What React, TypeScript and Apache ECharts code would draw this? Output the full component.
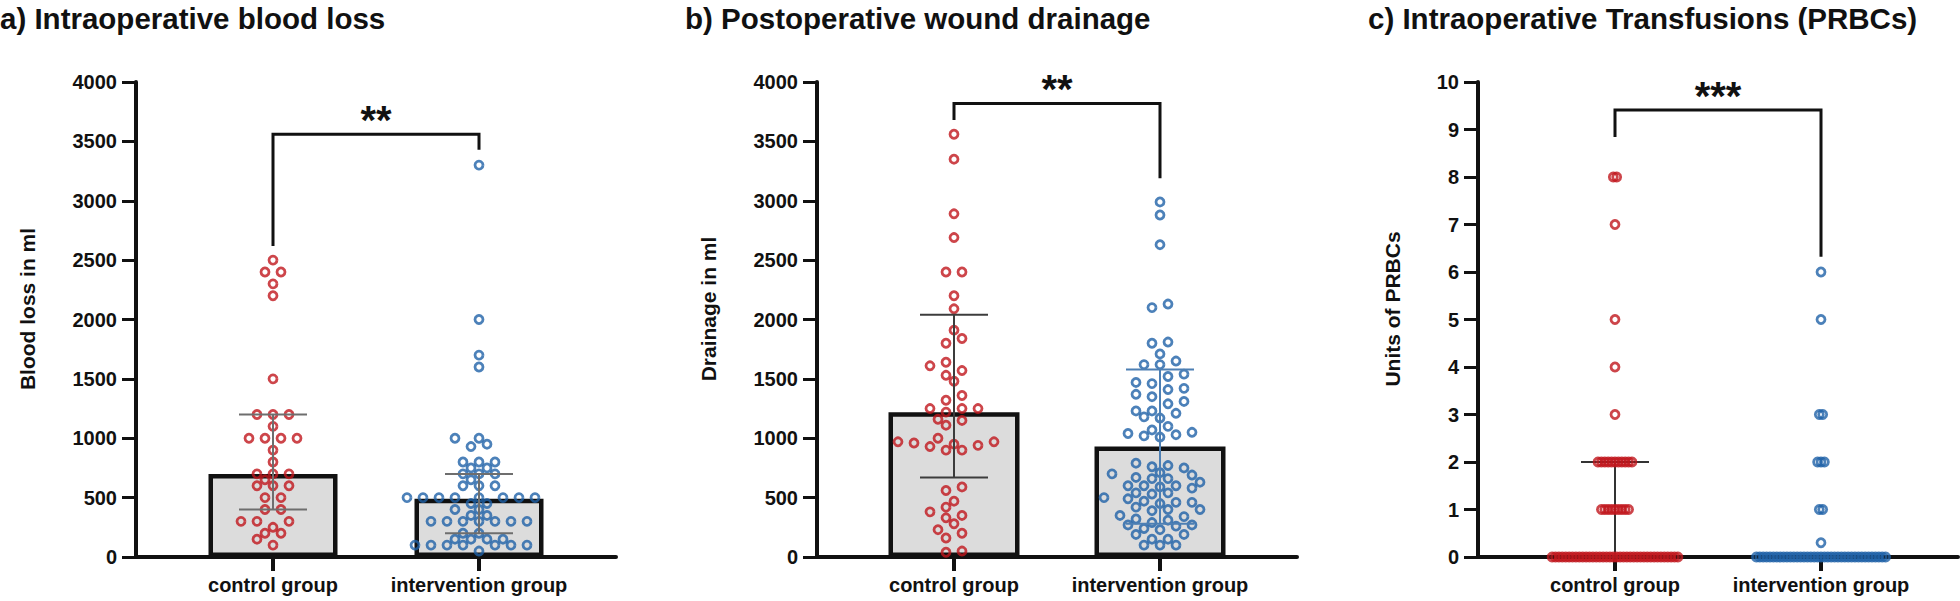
import React, { useEffect, useRef } from "react";
import * as echarts from "echarts";

// ---------------- data ----------------
const groups = ["control group", "intervention group"];
const titles = [
  "a) Intraoperative blood loss",
  "b) Postoperative wound drainage",
  "c) Intraoperative Transfusions (PRBCs)",
];
const yNames = ["Blood loss in ml", "Drainage in ml", "Units of PRBCs"];
const yMax = [4000, 4000, 10];
const yInterval = [500, 500, 1];

const bloodControl = [2500, 2400, 2400, 2300, 2200, 1500, 1200, 1200, 1200, 1100, 1000, 1000, 1000, 1000, 900, 800, 700, 700, 700, 650, 600, 600, 600, 500, 500, 400, 400, 300, 300, 300, 250, 200, 200, 150, 100];
const bloodIntervention = [3300, 2000, 1700, 1600, 1000, 1000, 950, 930, 800, 800, 800, 750, 750, 700, 700, 700, 650, 600, 600, 600, 500, 500, 500, 500, 500, 500, 500, 500, 450, 450, 400, 400, 350, 350, 300, 300, 300, 300, 300, 300, 300, 200, 200, 150, 150, 150, 150, 100, 100, 100, 100, 100, 100, 100, 50];
const bloodBars = [700, 490];
const bloodErrLow = [400, 200];
const bloodErrHigh = [1200, 700];
const bloodBracket = [3560, 2620, 3430];

const drainControl = [3560, 3350, 2890, 2690, 2400, 2400, 2200, 2090, 1910, 1840, 1800, 1640, 1610, 1570, 1530, 1480, 1360, 1320, 1250, 1250, 1250, 1220, 1160, 1150, 1110, 1000, 970, 970, 960, 950, 940, 930, 900, 900, 590, 560, 470, 420, 380, 350, 330, 280, 230, 200, 160, 50, 40];
const drainIntervention = [2990, 2880, 2630, 2130, 2100, 1810, 1800, 1710, 1650, 1620, 1620, 1540, 1520, 1470, 1460, 1420, 1410, 1370, 1350, 1310, 1290, 1230, 1230, 1210, 1180, 1170, 1100, 1070, 1050, 1040, 1030, 1020, 1010, 790, 770, 760, 750, 710, 700, 690, 670, 660, 660, 630, 600, 600, 600, 590, 580, 540, 540, 530, 500, 490, 470, 460, 460, 450, 420, 400, 400, 390, 350, 340, 320, 310, 290, 270, 270, 260, 240, 230, 190, 190, 150, 150, 100, 100, 100];
const drainBars = [1220, 930];
const drainErrLow = [670, 280];
const drainErrHigh = [2040, 1580];
const drainBracket = [3820, 3680, 3190];

const prbcControl = [8, 8, 7, 5, 4, 3, 2, 2, 2, 2, 2, 2, 2, 2, 2, 2, 2, 1, 1, 1, 1, 1, 1, 1, 1, 1, 0, 0, 0, 0, 0, 0, 0, 0, 0, 0, 0, 0, 0, 0, 0, 0, 0, 0, 0, 0, 0, 0, 0, 0, 0, 0, 0, 0, 0, 0, 0, 0, 0, 0, 0, 0, 0, 0];
const prbcIntervention = [6, 5, 3, 3, 2, 2, 2, 1, 1, 0.3, 0, 0, 0, 0, 0, 0, 0, 0, 0, 0, 0, 0, 0, 0, 0, 0, 0, 0, 0, 0, 0, 0, 0, 0, 0, 0, 0, 0, 0, 0, 0, 0, 0, 0, 0, 0, 0, 0, 0];
const prbcErrLow = [0, 0];
const prbcErrHigh = [2, 0];
const prbcBracket = [9.41, 8.84, 6.32];

const stars = ["**", "**", "***"];

// ---------------- layout / style ----------------
const FONT = "'Liberation Sans', Arial, Helvetica, sans-serif";
const INK = "#111111";
const RED = "#c0161d";
const BLUE = "#1f62a8";
const GRID_LEFT = [136, 817, 1478];
const GRID_TOP = 82;
const GRID_H = 475;
const GRID_W = 480;
const PX_PER_X = 206;
const X_MIN = 1 - 137 / PX_PER_X;
const X_MAX = X_MIN + GRID_W / PX_PER_X;
const TITLE_X = [0, 685, 1368];
const YNAME_X = [27, 708, 1392];
const YNAME_Y = 309;

// beeswarm layout (Prism-like rows on a half-step grid, collision-aware)
function swarm(values: number[], center: number, pxPerValue: number, binPx: number, stepPx: number, minDist: number) {
  const sorted = [...values].sort((a, b) => a - b);
  const placed: { x: number; y: number }[] = [];
  const out: number[][] = [];
  const half = stepPx / 2;
  let i = 0;
  while (i < sorted.length) {
    let j = i;
    while (j < sorted.length && (sorted[j] - sorted[i]) * pxPerValue < binPx) j++;
    const m = j - i;
    const odd = m % 2 === 1;
    const cands: { c: number; s: number }[] = [];
    for (let k = -160; k <= 160; k++) {
      const c = k * half;
      const onGrid = odd ? k % 2 === 0 : Math.abs(k) % 2 === 1;
      cands.push({ c, s: Math.abs(c) + (onGrid ? 0 : half * 1.25) + (c < 0 ? 0 : 0.01) });
    }
    cands.sort((a, b) => a.s - b.s);
    for (let k = i; k < j; k++) {
      const y = sorted[k] * pxPerValue;
      let chosen = cands[0].c;
      for (const cd of cands) {
        let ok = true;
        for (const p of placed) {
          const dx = p.x - cd.c, dy = p.y - y;
          if (dx * dx + dy * dy < minDist * minDist - 1e-6) { ok = false; break; }
        }
        if (ok) { chosen = cd.c; break; }
      }
      placed.push({ x: chosen, y });
      out.push([center + chosen / PX_PER_X, sorted[k]]);
    }
    i = j;
  }
  return out;
}

function scatterSeries(idx: number, values: number[], center: number, color: string, binPx: number, step: number, minDist: number) {
  return {
    type: "scatter",
    xAxisIndex: idx,
    yAxisIndex: idx,
    z: 4,
    clip: false,
    symbol: "circle",
    symbolSize: 8,
    itemStyle: { color: "rgba(0,0,0,0)", borderColor: color, borderWidth: 2.8 },
    data: swarm(values, center, GRID_H / yMax[idx], binPx, step, minDist),
  };
}

function barSeries(idx: number, values: number[], width: number) {
  return {
    type: "bar",
    xAxisIndex: idx,
    yAxisIndex: idx,
    z: 2,
    barWidth: width,
    itemStyle: { color: "#dcdcdc", borderColor: INK, borderWidth: 4.5 },
    data: values.map((v, i) => [i + 1, v]),
  };
}

function errorSeries(idx: number, low: number[], high: number[], colors: string[], z: number) {
  return {
    type: "custom",
    xAxisIndex: idx,
    yAxisIndex: idx,
    z,
    data: low.map((l, i) => [i + 1, l, high[i]]),
    renderItem: (params: any, api: any) => {
      const x = api.value(0);
      const a = api.coord([x, api.value(1)]);
      const b = api.coord([x, api.value(2)]);
      const st = { stroke: colors[params.dataIndex], lineWidth: 2 };
      const half = 34;
      return {
        type: "group",
        children: [
          { type: "line", shape: { x1: a[0], y1: a[1], x2: b[0], y2: b[1] }, style: st },
          { type: "line", shape: { x1: b[0] - half, y1: b[1], x2: b[0] + half, y2: b[1] }, style: st },
          { type: "line", shape: { x1: a[0] - half, y1: a[1], x2: a[0] + half, y2: a[1] }, style: st },
        ],
      };
    },
  };
}

function bracketSeries(idx: number, br: number[], star: string) {
  return {
    type: "custom",
    xAxisIndex: idx,
    yAxisIndex: idx,
    z: 6,
    data: [[1, 2, br[0], br[1], br[2]]],
    renderItem: (params: any, api: any) => {
      const x1 = api.value(0), x2 = api.value(1);
      const p1 = api.coord([x1, api.value(3)]);
      const p2 = api.coord([x1, api.value(2)]);
      const p3 = api.coord([x2, api.value(2)]);
      const p4 = api.coord([x2, api.value(4)]);
      return {
        type: "group",
        children: [
          { type: "polyline", shape: { points: [p1, p2, p3, p4] }, style: { stroke: INK, lineWidth: 3, fill: "none", lineJoin: "miter" } },
          {
            type: "text",
            x: (p2[0] + p3[0]) / 2,
            y: p2[1] - 14,
            style: { text: star, fontSize: 40, fontWeight: "bold", fill: INK, align: "center", verticalAlign: "middle", fontFamily: FONT },
          },
        ],
      };
    },
  };
}

export default function App() {
  const ref = useRef<HTMLDivElement>(null);
  useEffect(() => {
    document.body.style.margin = "0";
    if (!ref.current) return;
    const chart = echarts.init(ref.current, null, { renderer: "svg" });
    const grids = GRID_LEFT.map((left) => ({ left, top: GRID_TOP, width: GRID_W, height: GRID_H, containLabel: false }));
    const xAxes = GRID_LEFT.map((_, i) => ({
      type: "value",
      gridIndex: i,
      min: X_MIN,
      max: X_MAX,
      splitLine: { show: false },
      axisLine: { show: true, onZero: false, lineStyle: { color: INK, width: 4 } },
      axisTick: { show: true, customValues: [1, 2], length: 14, lineStyle: { color: INK, width: 4 } },
      axisLabel: {
        customValues: [1, 2],
        formatter: (v: number) => groups[Math.round(v) - 1] || "",
        fontSize: 20,
        fontWeight: "bold",
        color: INK,
        fontFamily: FONT,
        margin: 18,
      },
    }));
    const yAxes = GRID_LEFT.map((_, i) => ({
      type: "value",
      gridIndex: i,
      min: 0,
      max: yMax[i],
      interval: yInterval[i],
      splitLine: { show: false },
      axisLine: { show: true, lineStyle: { color: INK, width: 4 } },
      axisTick: { show: true, length: 14, lineStyle: { color: INK, width: 3 } },
      axisLabel: { formatter: (v: number) => String(v), fontSize: 20, fontWeight: "bold", color: INK, fontFamily: FONT, margin: 19 },
    }));
    const series: any[] = [
      barSeries(0, bloodBars, 129),
      scatterSeries(0, bloodControl, 1, RED, 5, 16, 9.9),
      scatterSeries(0, bloodIntervention, 2, BLUE, 5, 16, 9.9),
      errorSeries(0, bloodErrLow, bloodErrHigh, ["#6e6e6e", "#6e6e6e"], 5),
      bracketSeries(0, bloodBracket, stars[0]),

      barSeries(1, drainBars, 131),
      scatterSeries(1, drainControl, 1, RED, 5, 16, 9.9),
      scatterSeries(1, drainIntervention, 2, BLUE, 5, 16, 9.9),
      errorSeries(1, drainErrLow, drainErrHigh, ["#3c3c3c", "#4d7fb3"], 5),
      bracketSeries(1, drainBracket, stars[1]),

      errorSeries(2, prbcErrLow, prbcErrHigh, ["#333333", "#333333"], 3),
      scatterSeries(2, prbcControl, 1, RED, 10, 3.4, 3.3),
      scatterSeries(2, prbcIntervention, 2, BLUE, 10, 3.4, 3.3),
      bracketSeries(2, prbcBracket, stars[2]),
    ];
    const graphic: any[] = [
      ...titles.map((t, i) => ({
        type: "text",
        x: TITLE_X[i],
        y: 18,
        style: { text: t, fontSize: 29.5, fontWeight: "bold", fill: INK, fontFamily: FONT, verticalAlign: "middle" },
      })),
      ...yNames.map((t, i) => ({
        type: "text",
        x: YNAME_X[i],
        y: YNAME_Y,
        rotation: Math.PI / 2,
        style: { text: t, fontSize: 21, fontWeight: "bold", fill: INK, fontFamily: FONT, align: "center", verticalAlign: "middle" },
      })),
    ];
    chart.setOption({
      animation: false,
      backgroundColor: "#ffffff",
      textStyle: { fontFamily: FONT },
      grid: grids,
      xAxis: xAxes,
      yAxis: yAxes,
      series,
      graphic,
    });
    return () => chart.dispose();
  }, []);
  return <div ref={ref} style={{ width: 1960, height: 601 }} />;
}
